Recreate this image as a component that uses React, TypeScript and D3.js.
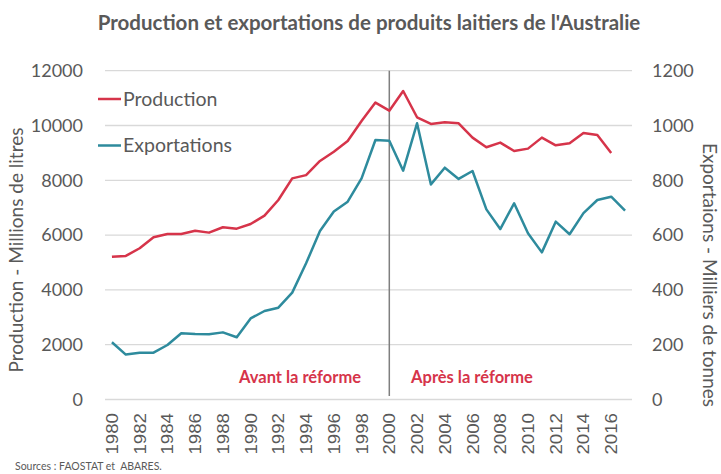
import React from "react";
import * as d3 from "d3";

const years: number[] = d3.range(1980, 2018);
const production: (number | null)[] = [
  5210, 5240, 5520, 5920, 6040, 6040, 6160, 6090, 6285, 6235,
  6405, 6710, 7280, 8070, 8190, 8705, 9045, 9435, 10165, 10835,
  10540, 11260, 10300, 10056, 10117, 10080, 9557, 9205, 9375, 9070,
  9156, 9557, 9278, 9351, 9727, 9654, 8997, null,
];
const exportations: number[] = [
  209, 164, 171, 171, 199, 242, 239, 238, 245, 227,
  296, 323, 335, 390, 497, 615, 686, 722, 807, 947,
  944, 835, 1008, 785, 846, 805, 834, 694, 622, 716,
  607, 537, 649, 603, 680, 728, 740, 689,
];
const leftTicks: number[] = [0, 2000, 4000, 6000, 8000, 10000, 12000];
const rightTicks: number[] = [0, 200, 400, 600, 800, 1000, 1200];
const xTickYears: number[] = d3.range(1980, 2018, 2);

const W = 721;
const H = 474;
const RED = "#d6344a";
const TEAL = "#2e8b9d";
const GREY = "#595959";
const FONT = "Lato, 'Open Sans', sans-serif";

export default function App() {
  const x = d3.scaleBand<number>().domain(years).range([105, 632]);
  const cx = (yr: number) => (x(yr) as number) + x.bandwidth() / 2;
  const yL = d3.scaleLinear().domain([0, 12000]).range([399.5, 70.7]);
  const yR = d3.scaleLinear().domain([0, 1200]).range([399.5, 70.7]);

  const prodLine = d3
    .line<number>()
    .defined((_, i) => production[i] != null)
    .x((_, i) => cx(years[i]))
    .y((_, i) => yL(production[i] as number));
  const expLine = d3
    .line<number>()
    .x((_, i) => cx(years[i]))
    .y((d) => yR(d));

  return (
    <svg width={W} height={H} style={{ display: "block", position: "absolute", left: 0, top: 0, background: "#fff" }}>
      <rect width={W} height={H} fill="#fff" />
      <text x={369} y={30} textAnchor="middle" fontFamily={FONT} fontWeight={700} fontSize={20.5} fill={GREY}>
        Production et exportations de produits laitiers de l'Australie
      </text>
      {leftTicks.map((t) => (
        <line key={t} x1={105} x2={632} y1={yL(t)} y2={yL(t)} stroke="#d9d9d9" strokeWidth={1.3} />
      ))}
      {leftTicks.map((t) => (
        <text key={"l" + t} x={83} y={yL(t)} dy="0.35em" textAnchor="end" fontFamily={FONT} fontSize={18} fill={GREY}>
          {t}
        </text>
      ))}
      {rightTicks.map((t) => (
        <text key={"r" + t} x={652} y={yR(t)} dy="0.35em" textAnchor="start" fontFamily={FONT} fontSize={18} fill={GREY}>
          {t}
        </text>
      ))}
      <text transform={`translate(23,250) rotate(-90)`} textAnchor="middle" fontFamily={FONT} fontSize={19} fill={GREY}>
        Production - Millions de litres
      </text>
      <text transform={`translate(703,275) rotate(90)`} textAnchor="middle" fontFamily={FONT} fontSize={19} fill={GREY}>
        Exportaions - Milliers de tonnes
      </text>
      {xTickYears.map((yr) => (
        <text
          key={yr}
          transform={`translate(${cx(yr) + 6},413) rotate(-90)`}
          textAnchor="end"
          fontFamily="'Liberation Sans', Arial, sans-serif"
          fontSize={16.5}
          fill={GREY}
          textLength={41.5}
          lengthAdjust="spacingAndGlyphs"
        >
          {yr}
        </text>
      ))}
      <line x1={cx(2000)} x2={cx(2000)} y1={70.7} y2={396} stroke="#7f7f7f" strokeWidth={1.5} />
      <path d={expLine(exportations) || ""} fill="none" stroke={TEAL} strokeWidth={2.5} strokeLinejoin="round" />
      <path d={prodLine(years) || ""} fill="none" stroke={RED} strokeWidth={2.5} strokeLinejoin="round" />
      <line x1={98} x2={121} y1={99} y2={99} stroke={RED} strokeWidth={2.5} />
      <text x={123} y={99} dy="0.35em" fontFamily={FONT} fontSize={19.5} fill={GREY}>Production</text>
      <line x1={98} x2={121} y1={145.5} y2={145.5} stroke={TEAL} strokeWidth={2.5} />
      <text x={123} y={145.5} dy="0.35em" fontFamily={FONT} fontSize={19.5} fill={GREY}>Exportations</text>
      <text x={300} y={377} dy="0.35em" textAnchor="middle" fontFamily={FONT} fontWeight={700} fontSize={16.5} fill={RED}>
        Avant la réforme
      </text>
      <text x={472} y={377} dy="0.35em" textAnchor="middle" fontFamily={FONT} fontWeight={700} fontSize={16.5} fill={RED}>
        Après la réforme
      </text>
      <text x={15} y={470} fontFamily={FONT} fontSize={10.5} fill={GREY} style={{ whiteSpace: "pre" }}>
        Sources : FAOSTAT et  ABARES.
      </text>
    </svg>
  );
}
